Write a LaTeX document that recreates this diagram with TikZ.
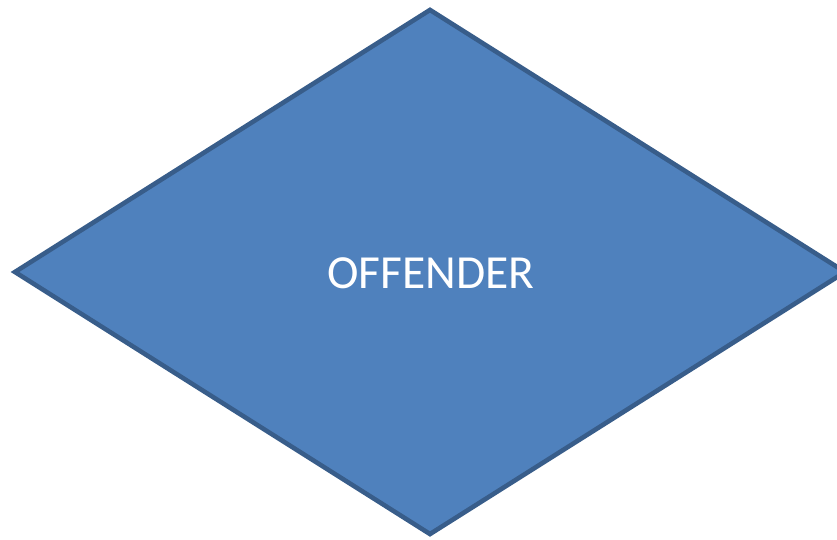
\documentclass[tikz,border=0pt]{standalone}
\usepackage{fontspec}
\setmainfont{Carlito}
\usepackage{xcolor}
\usetikzlibrary{shapes.geometric}
\definecolor{boxfill}{HTML}{4F81BD}
\definecolor{boxline}{HTML}{385D8A}

\begin{document}
\begin{tikzpicture}[
  x=1pt, y=1pt,
  decision/.style={diamond, draw=boxline, fill=boxfill, line width=4.6pt, inner sep=0pt,
    minimum width=832pt, minimum height=526pt},
  label/.style={text=white, font=\fontsize{47.5}{47.5}\selectfont}
]
  \useasboundingbox (0,0) rectangle (837,540);
  \clip (0,0) rectangle (837,540);
  % the decision box, its right corner runs off the page
  \node[decision] (offender) at (430,268) {};
  \node[label] (offendertext) at ([xshift=1pt,yshift=-1pt]offender.center) {OFFENDER};
\end{tikzpicture}
\end{document}
